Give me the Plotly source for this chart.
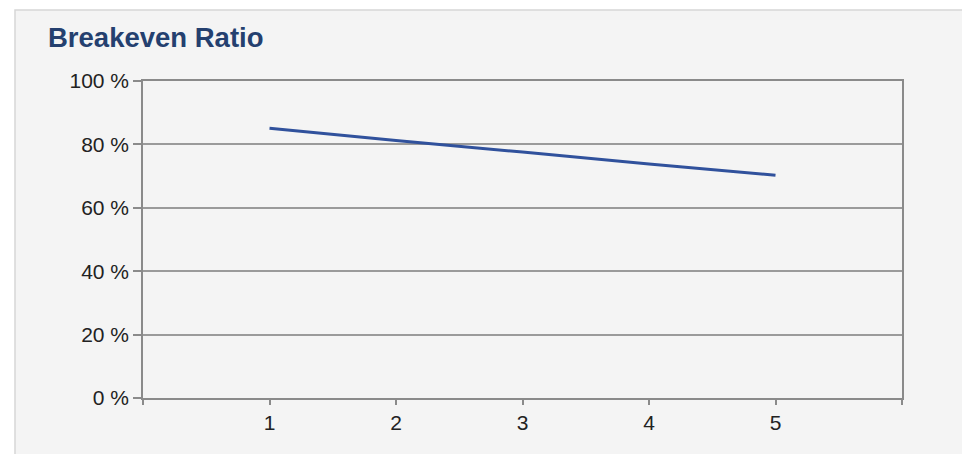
import plotly.graph_objects as go

# Data
periods = [1, 2, 3, 4, 5]
breakeven_ratio = [85.1, 81.2, 77.6, 73.8, 70.3]
x_tick_vals = [0, 1, 2, 3, 4, 5, 6]
x_tick_text = ["", "1", "2", "3", "4", "5", ""]
y_tick_vals = [0, 20, 40, 60, 80, 100]
y_tick_text = ["0 %", "20 %", "40 %", "60 %", "80 %", "100 %"]
title_text = "Breakeven Ratio"

W, H = 962, 454
L, R, T, B = 143, 60, 81, 56
pw = W - L - R
ph = H - T - B

def px_x(p):
    return (p - L) / pw

def px_y(p):
    return (H - B - p) / ph

FONT = "Arial, Liberation Sans, sans-serif"
GRID = "#9a9a9a"
AXIS = "#8a8a8a"

fig = go.Figure()
fig.add_trace(go.Scatter(
    x=periods, y=breakeven_ratio, mode="lines",
    line=dict(color="#30519c", width=3),
    showlegend=False, hoverinfo="skip",
))

fig.add_shape(
    type="rect", xref="paper", yref="paper",
    x0=px_x(15), x1=px_x(970), y0=px_y(470), y1=px_y(10),
    fillcolor="#f4f4f4", line=dict(color="#d6d6d6", width=1.5),
    layer="below",
)

fig.add_annotation(
    text="<b>" + title_text + "</b>", xref="paper", yref="paper",
    x=px_x(46), y=px_y(38), xanchor="left", yanchor="middle",
    showarrow=False, font=dict(family=FONT, size=27.5, color="#24406f"),
)

fig.update_layout(
    width=W, height=H,
    margin=dict(l=L, r=R, t=T, b=B),
    paper_bgcolor="white",
    plot_bgcolor="rgba(0,0,0,0)",
    font=dict(family=FONT, size=21, color="#222222"),
    xaxis=dict(
        range=[0, 6], tickmode="array", tickvals=x_tick_vals, ticktext=x_tick_text,
        showgrid=False, zeroline=False,
        showline=True, linecolor=AXIS, linewidth=1.5, mirror=True,
        ticks="outside", ticklen=5, tickcolor=AXIS, tickwidth=1.5,
        tickfont=dict(size=21, color="#222222"),
    ),
    yaxis=dict(
        range=[0, 100], tickmode="array", tickvals=y_tick_vals, ticktext=y_tick_text,
        showgrid=True, gridcolor=GRID, gridwidth=1.5, zeroline=False,
        showline=True, linecolor=AXIS, linewidth=1.5, mirror=True,
        ticks="outside", ticklen=8, tickcolor=AXIS, tickwidth=1.5,
        tickfont=dict(size=21, color="#222222"),
    ),
)

fig.write_html("out.html")
